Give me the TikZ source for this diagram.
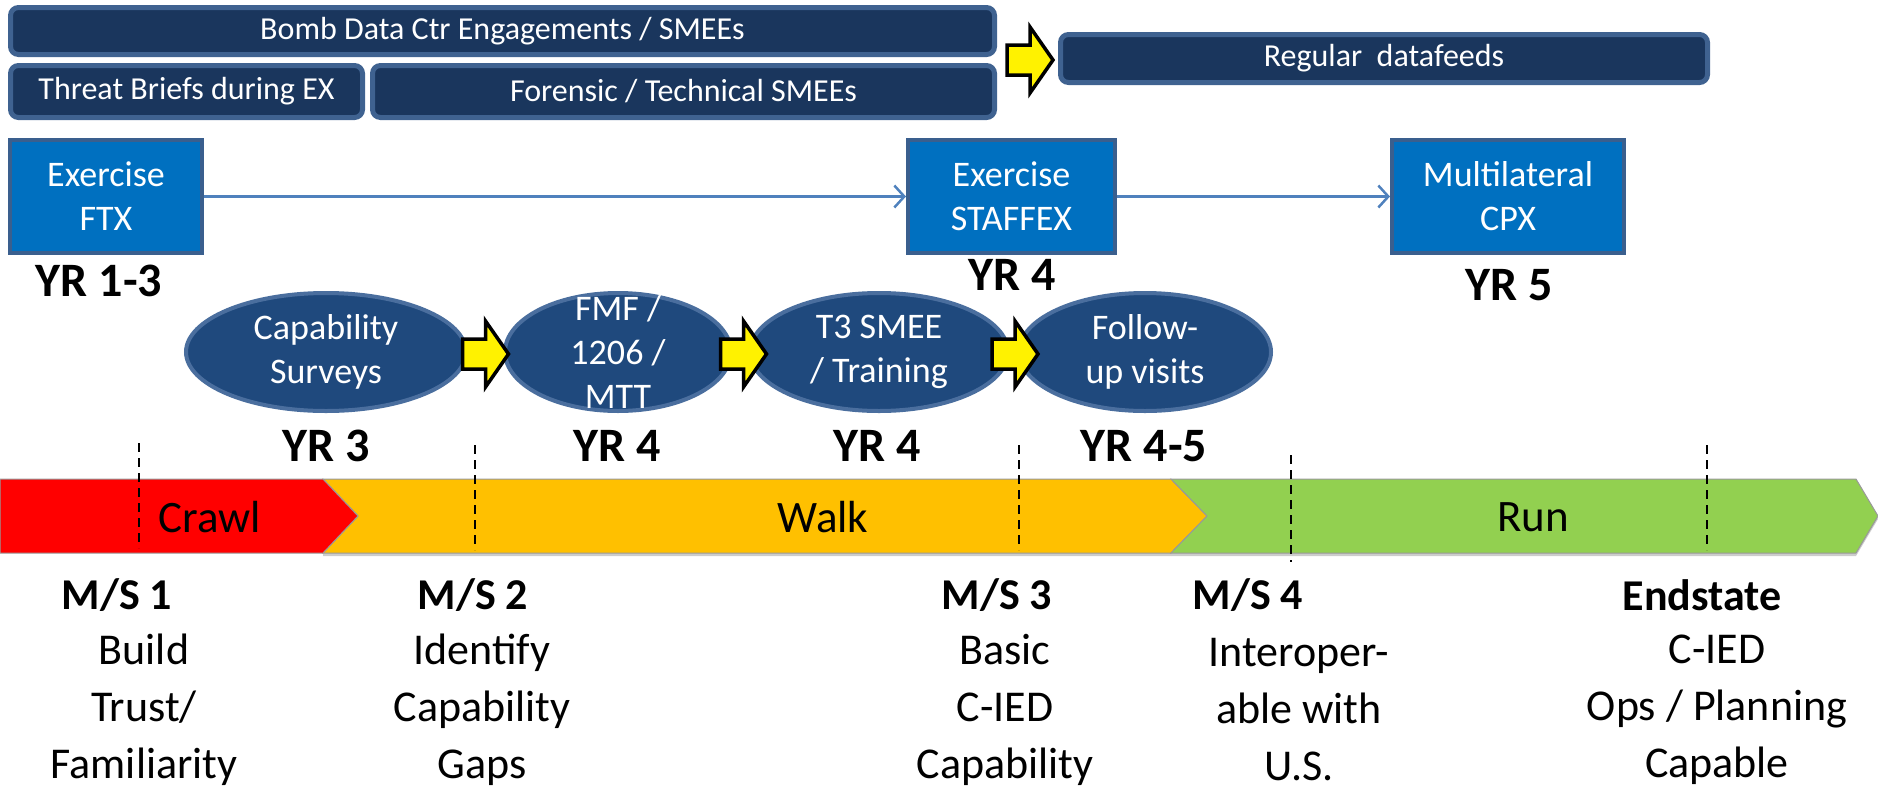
\documentclass[tikz,border=0pt]{standalone}
\usepackage{fontspec}
\setmainfont{Carlito}
\usetikzlibrary{arrows.meta,shapes.geometric}
\definecolor{navy}{HTML}{1A365D}
\definecolor{navyedge}{HTML}{3F6290}
\definecolor{exblue}{HTML}{0070C0}
\definecolor{exedge}{HTML}{3A5F8E}
\definecolor{ellfill}{HTML}{1F497D}
\definecolor{elledge}{HTML}{4A6E9E}
\definecolor{linkblue}{HTML}{4F81BD}
\definecolor{crawlred}{HTML}{FF0000}
\definecolor{walkorange}{HTML}{FFC000}
\definecolor{rungreen}{HTML}{92D050}
\begin{document}
\begin{tikzpicture}[x=1pt,y=-1pt,
  topbox/.style={draw=navyedge, line width=5pt, fill=navy, rounded corners=8pt,
    text=white, font=\fontsize{32}{38}\selectfont, inner sep=0pt},
  exbox/.style={draw=exedge, line width=4pt, fill=exblue, text=white,
    font=\fontsize{36}{44}\selectfont, align=center, inner sep=0pt,
    minimum height=113pt},
  phase/.style={ellipse, draw=elledge, line width=4pt, fill=ellfill,
    inner sep=0pt, minimum height=118pt},
  phasetext/.style={text=white, font=\fontsize{36}{44}\selectfont, align=center, inner sep=0pt},
  yrlabel/.style={font=\bfseries\fontsize{48}{58}\selectfont, inner sep=0pt},
  link/.style={draw=linkblue, line width=2.5pt, -{Straight Barb[length=10pt,width=22pt,line width=2.5pt]}},
  bandlabel/.style={font=\fontsize{45}{54}\selectfont, inner sep=0pt},
  msdash/.style={draw=black, line width=1.5pt, dash pattern=on 9pt off 6pt},
  mshead/.style={font=\bfseries\fontsize{44}{57}\selectfont, inner sep=0pt},
  msbody/.style={font=\fontsize{44}{57}\selectfont, align=center, inner sep=0pt},
  bandedge/.style={draw=black!40, line width=1pt},
  yarrow/.pic={\draw[black, line width=3.5pt, fill=yellow, line join=miter]
    (-23,-15) -- (0,-15) -- (0,-33) -- (23,0) -- (0,33) -- (0,15) -- (-23,15) -- cycle;}
]
\useasboundingbox (0,0) rectangle (1878,790);

% top bars
\node[topbox, minimum width=984pt, minimum height=47pt] (bomb) at (502.5,31) {Bomb Data Ctr Engagements / SMEEs};
\node[topbox, minimum width=352pt, minimum height=52pt] (threat) at (186.5,91.5) {Threat Briefs during EX};
\node[topbox, minimum width=622pt, minimum height=52pt] (forensic) at (683.5,91.5) {Forensic / Technical SMEEs};
\node[topbox, minimum width=647pt, minimum height=48pt] (feeds) at (1384,58.5) {Regular\ \ datafeeds};
\pic at (1030,60) {yarrow};

% exercises
\node[exbox, minimum width=192pt] (ftx) at (106,196.5) {Exercise\\FTX};
\node[exbox, minimum width=207pt] (staffex) at (1011.5,196.5) {Exercise\\STAFFEX};
\node[exbox, minimum width=232pt] (cpx) at (1508,196.5) {Multilateral\\CPX};
\draw[link] (ftx.east) -- (staffex.west);
\draw[link] (staffex.east) -- (cpx.west);
\node[yrlabel] (yr13) at (99,281) {YR 1-3};
\node[yrlabel] (yr4a) at (1012,275) {YR 4};
\node[yrlabel] (yr5) at (1509,285) {YR 5};

% phases
\node[phase, minimum width=280pt] (surv) at (326,352) {};
\node[phase, minimum width=226pt] (fmf) at (618,352) {};
\node[phase, minimum width=258pt] (t3) at (879,352) {};
\node[phase, minimum width=252pt] (fup) at (1145,352) {};
\node[phasetext] (survt) at (surv.center) {Capability\\Surveys};
\node[phasetext] (fmft) at (fmf.center) {FMF /\\1206 /\\MTT};
\node[phasetext] (t3t) at (t3.center) {T3 SMEE\\/ Training};
\node[phasetext] (fupt) at (fup.center) {Follow-\\up visits};
\pic at (485.5,354) {yarrow};
\pic at (743.5,354) {yarrow};
\pic at (1015,354) {yarrow};
\node[yrlabel] (yr3) at (326,446) {YR 3};
\node[yrlabel] (yr4b) at (617,446) {YR 4};
\node[yrlabel] (yr4c) at (877,446) {YR 4};
\node[yrlabel] (yr45) at (1144,446) {YR 4-5};

% band
\fill[black!20] (323,482) -- (1171,482) -- (1207,519) -- (1171,556) -- (323,556) -- cycle;
\fill[black!20] (1171,482) -- (1856,482) -- (1878,519) -- (1856,556) -- (1171,556) -- cycle;
\path[fill=walkorange, bandedge] (323,479) -- (1171,479) -- (1207,516) -- (1171,553) -- (323,553) -- (358,516) -- cycle;
\path[fill=crawlred, bandedge] (0,479) -- (323,479) -- (358,516) -- (323,553) -- (0,553) -- cycle;
\path[fill=rungreen, bandedge] (1171,479) -- (1856,479) -- (1878,516) -- (1856,553) -- (1171,553) -- (1207,516) -- cycle;
\node[bandlabel] (crawl) at (210,517) {Crawl};
\node[bandlabel] (walk) at (823,517) {Walk};
\node[bandlabel] (run) at (1533,517) {Run};

% milestone dashes
\draw[msdash] (139,443) -- (139,548);
\draw[msdash] (475,445) -- (475,550);
\draw[msdash] (1019,445) -- (1019,550);
\draw[msdash] (1291,455) -- (1291,562);
\draw[msdash] (1707,445) -- (1707,550);

% milestones
\node[mshead] (ms1) at (117,595) {M/S 1};
\node[msbody] (ms1t) at (144,710) {Build\\Trust/\\Familiarity};
\node[mshead] (ms2) at (473,595) {M/S 2};
\node[msbody] (ms2t) at (482,710) {Identify\\Capability\\Gaps};
\node[mshead] (ms3) at (997,595) {M/S 3};
\node[msbody] (ms3t) at (1005,710) {Basic\\C-IED\\Capability};
\node[mshead] (ms4) at (1248,595) {M/S 4};
\node[msbody] (ms4t) at (1299,710) {Interoper-\\able with\\U.S.};
\node[mshead] (es) at (1702,595) {Endstate};
\node[msbody] (est) at (1717,710) {C-IED\\Ops / Planning\\Capable};
\end{tikzpicture}
\end{document}
